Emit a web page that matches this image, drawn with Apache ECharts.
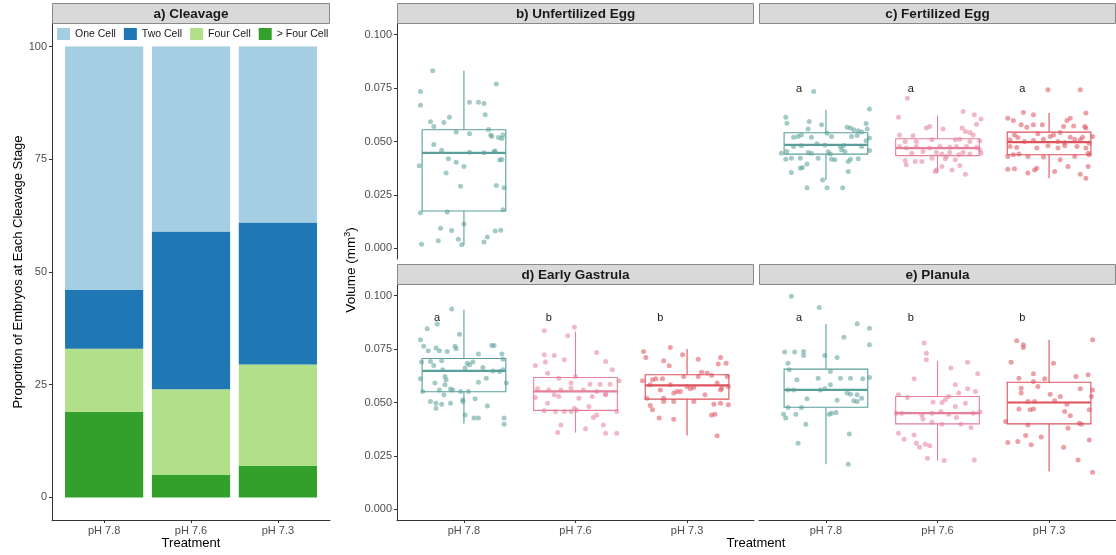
<!DOCTYPE html>
<html>
<head>
<meta charset="utf-8">
<script src="https://cdn.jsdelivr.net/npm/echarts@6/dist/echarts.min.js"></script>
<style>
  html, body { margin: 0; padding: 0; background: #fff; }
  #chart { width: 1116px; height: 555px; }
</style>
</head>
<body>
<div id="chart"></div>
<script>
// ---------- data ----------
const treatments = ['pH 7.8', 'pH 7.6', 'pH 7.3'];
const stageNames = ['One Cell', 'Two Cell', 'Four Cell', '> Four Cell'];

// Cleavage: % of embryos at each stage, per treatment
const oneCell  = [54, 41, 39];
const twoCell  = [13, 35, 31.5];
const fourCell = [14, 19, 22.5];
const moreCell = [19, 5, 7];

const proportionTicks = [0, 25, 50, 75, 100];
const volumeTicks = [0, 0.025, 0.05, 0.075, 0.1];

// Box summaries: [min, Q1, median, Q3, max] (mm^3)
const unfertBox = [[0.0016, 0.0175, 0.0447, 0.0555, 0.0831]];
const fertBox = [
  [0.0320, 0.0441, 0.0484, 0.0541, 0.0648],
  [0.0352, 0.0434, 0.0469, 0.0513, 0.0622],
  [0.0328, 0.0438, 0.0497, 0.0544, 0.0633]
];
const gastrulaBox = [
  [0.0400, 0.0550, 0.0648, 0.0706, 0.0934],
  [0.0359, 0.0463, 0.0552, 0.0617, 0.0833],
  [0.0345, 0.0516, 0.0580, 0.0630, 0.0750]
];
const planulaBox = [
  [0.0211, 0.0478, 0.0559, 0.0656, 0.0867],
  [0.0228, 0.0400, 0.0450, 0.0528, 0.0695],
  [0.0177, 0.0400, 0.0500, 0.0595, 0.0794]
];

// Significance letters
const fertLetters = ['a', 'a', 'a'];
const gastrulaLetters = ['a', 'b', 'b'];
const planulaLetters = ['a', 'b', 'b'];

// Individual volumes: [jitter, volume]
const unfert78 = [[-0.28,.0831],[-0.39,.0734],[-0.39,.067],[0.29,.0769],[0.05,.0684],[0.13,.0684],[0.18,.0678],[0.19,.0625],[-0.30,.0592],[-0.27,.057],[-0.18,.0589],[-0.13,.0614],[-0.07,.0545],[0.05,.0536],[0.22,.0556],[0.24,.0531],[0.25,.0523],[0.31,.0519],[0.34,.0514],[0.35,.053],[-0.27,.0486],[-0.20,.0459],[0.05,.045],[0.18,.0447],[0.27,.0453],[0.28,.0455],[-0.14,.0419],[-0.07,.0403],[0,.0383],[-0.40,.0386],[0.32,.0413],[0.34,.0416],[-0.16,.0352],[-0.03,.0291],[0.29,.0294],[0.36,.0284],[-0.39,.0167],[-0.15,.017],[0.35,.018],[0,.0114],[-0.21,.0094],[-0.11,.0083],[0.28,.0081],[0.33,.0084],[-0.23,.0036],[-0.05,.0042],[0.21,.0053],[0.18,.003],[-0.38,.0019],[-0.02,.0017]];

const fert78 = [[-0.11,.0734],[0.39,.0652],[-0.36,.0614],[-0.15,.0594],[0.36,.0584],[-0.04,.0578],[-0.35,.0586],[-0.16,.0558],[0.19,.0567],[0.22,.0563],[0.25,.0555],[0.29,.055],[0.32,.0544],[0.37,.0558],[0.01,.0539],[-0.22,.0531],[-0.29,.052],[-0.25,.0523],[-0.13,.052],[0.23,.0523],[0.28,.0528],[0.39,.0516],[0.05,.0523],[-0.29,.0477],[-0.22,.048],[-0.08,.0489],[-0.01,.0484],[0.13,.0477],[0.16,.0481],[0.32,.0477],[0.36,.0503],[-0.40,.0445],[-0.35,.0453],[-0.16,.0448],[-0.13,.0445],[0.02,.0452],[0.04,.0442],[0.14,.0461],[0.17,.0453],[0.39,.0458],[-0.36,.0417],[-0.31,.0422],[-0.23,.0422],[-0.07,.0422],[0.05,.0417],[0.08,.0414],[0.22,.0417],[0.29,.0419],[-0.17,.0395],[-0.23,.0375],[-0.21,.0378],[0.20,.0406],[0.20,.0359],[-0.31,.0355],[-0.03,.032],[-0.17,.0284],[0.01,.0284],[0.15,.0284]];
const fert76 = [[-0.27,.0703],[-0.35,.0614],[0.23,.0641],[0.33,.0625],[0.39,.0605],[0.35,.0581],[-0.10,.0563],[-0.07,.057],[0.05,.0558],[0.22,.0563],[0.25,.0547],[0.29,.0542],[-0.34,.0531],[-0.22,.0527],[0.32,.0531],[-0.29,.05],[-0.19,.05],[-0.05,.0508],[0.16,.0508],[0.20,.0511],[0.29,.05],[0.38,.0503],[-0.34,.0477],[-0.28,.0469],[-0.19,.0477],[-0.07,.0469],[0.02,.0477],[0.11,.0473],[0.17,.0477],[0.26,.0477],[0.35,.0473],[0.38,.0461],[0.39,.0445],[0.29,.0442],[-0.23,.0445],[-0.13,.0453],[-0.01,.0448],[0.04,.0442],[0.11,.0448],[0.19,.0438],[0.23,.0448],[-0.29,.0411],[-0.20,.0406],[-0.14,.0406],[-0.05,.0422],[0.07,.0419],[0.08,.043],[0.16,.0414],[-0.28,.0391],[0.20,.0388],[0.04,.0383],[-0.01,.0367],[-0.02,.0359],[0.13,.0367],[0.25,.0347]];
const fert73 = [[-0.01,.0742],[0.28,.0742],[-0.23,.0636],[0.33,.0633],[-0.37,.0609],[-0.32,.0598],[-0.14,.0625],[0.19,.0609],[-0.25,.0578],[-0.20,.0567],[-0.14,.0578],[-0.06,.0578],[0.13,.057],[0.16,.0598],[0.22,.0573],[0.32,.057],[0.33,.0563],[-0.31,.0531],[-0.28,.0519],[-0.10,.0536],[0.01,.0523],[0.04,.0531],[0.10,.0542],[0.19,.052],[0.30,.052],[0.39,.0523],[-0.35,.0508],[-0.22,.05],[-0.14,.0505],[-0.05,.0511],[0.08,.05],[0.14,.0495],[0.23,.0511],[0.28,.0508],[0.36,.0492],[-0.35,.0477],[-0.29,.0472],[-0.11,.0469],[-0.01,.048],[0.08,.0469],[0.14,.048],[0.25,.0477],[0.33,.0469],[-0.37,.043],[-0.32,.0438],[-0.27,.0442],[-0.19,.043],[-0.05,.0427],[0.10,.0414],[0.23,.043],[0.35,.0445],[0.36,.0438],[-0.37,.037],[-0.31,.0372],[-0.19,.0352],[-0.13,.0367],[-0.11,.0375],[0.05,.0359],[0.17,.0383],[0.28,.0347],[0.33,.0328],[0.35,.0383]];

const gastrula78 = [[-0.11,.0938],[-0.24,.0867],[-0.33,.0845],[-0.39,.0794],[-0.04,.082],[-0.36,.0763],[-0.32,.0742],[-0.25,.0755],[-0.22,.0742],[-0.15,.0739],[-0.08,.0763],[-0.07,.0752],[0.25,.0767],[0.27,.0767],[0.13,.0727],[0.34,.0727],[-0.38,.0689],[-0.30,.0692],[-0.20,.0695],[0.03,.0684],[0.05,.0677],[0.08,.0689],[0.35,.0703],[-0.27,.0673],[-0.19,.0653],[0.01,.0661],[0.17,.0664],[0.26,.0648],[0.32,.0645],[0.35,.0653],[-0.39,.0611],[-0.17,.0622],[-0.16,.0606],[0.20,.0614],[0.38,.0591],[-0.26,.0591],[-0.17,.0583],[0.13,.0595],[-0.37,.0552],[-0.22,.0559],[-0.12,.0563],[-0.10,.0559],[-0.03,.0552],[0.04,.0552],[-0.18,.0536],[-0.30,.0505],[-0.25,.0497],[-0.20,.0492],[-0.12,.0497],[-0.01,.0505],[-0.01,.0513],[0.10,.0517],[-0.25,.0473],[0.21,.0484],[0.01,.0442],[0.09,.0427],[0.13,.0427],[0.36,.0427],[0.36,.0398]];
const gastrula76 = [[-0.28,.0836],[-0.01,.0852],[-0.07,.0813],[0.19,.0734],[-0.28,.0723],[-0.19,.072],[-0.10,.07],[-0.36,.0673],[-0.27,.0689],[0.27,.0692],[0.33,.0653],[-0.25,.0637],[-0.15,.0614],[0,.0622],[0.39,.0602],[-0.04,.0591],[0.13,.0586],[0.22,.0586],[0.31,.0586],[-0.34,.0564],[-0.24,.0559],[-0.13,.0559],[-0.04,.0567],[0.07,.0559],[0.19,.0552],[0.27,.0539],[-0.36,.0523],[-0.19,.0536],[-0.15,.0528],[0.03,.052],[0.15,.0528],[0.27,.0536],[-0.25,.0497],[-0.01,.0473],[0.01,.0464],[-0.04,.0458],[-0.28,.0461],[-0.18,.0458],[-0.10,.0458],[0.12,.0481],[0.16,.043],[0.19,.0442],[0.37,.0458],[-0.13,.0395],[0.09,.0377],[0.25,.0395],[-0.16,.0359],[0.27,.0356],[0.37,.0356]];
const gastrula73 = [[-0.15,.0758],[-0.39,.0739],[-0.37,.0711],[-0.04,.0723],[-0.21,.0695],[-0.16,.0672],[0.10,.0703],[0.30,.0711],[0.35,.0684],[0.28,.068],[0.13,.0642],[0.18,.0638],[0.22,.0627],[0.10,.0622],[0.36,.0622],[0.27,.0591],[-0.40,.0602],[-0.31,.0606],[-0.28,.0611],[-0.22,.0611],[-0.03,.0622],[-0.33,.0583],[-0.24,.0559],[-0.15,.0583],[0.03,.0564],[0.06,.057],[0,.0575],[0.31,.0567],[0.37,.0575],[-0.12,.0544],[-0.09,.0552],[-0.06,.0552],[0.16,.0536],[0.30,.0559],[-0.36,.052],[-0.21,.052],[-0.12,.0505],[0.30,.0497],[0.24,.0492],[0.37,.0489],[0.06,.0505],[-0.33,.0486],[-0.31,.0466],[-0.21,.0505],[-0.25,.0427],[-0.12,.0422],[0.22,.0442],[0.25,.0445],[0.27,.0344]];

const planula78 = [[-0.31,.0997],[-0.06,.0945],[0.28,.0869],[0.39,.0848],[0.16,.0806],[0.39,.077],[-0.37,.0736],[-0.28,.0736],[-0.20,.0739],[-0.20,.072],[-0.01,.072],[0.10,.0711],[-0.34,.0684],[-0.33,.0653],[0.04,.0645],[-0.26,.0606],[-0.07,.0614],[0.13,.0614],[0.22,.0614],[0.33,.0611],[0.39,.0617],[0.04,.0583],[-0.34,.0559],[-0.29,.0559],[-0.05,.0559],[-0.01,.0564],[0.19,.0544],[0.22,.0539],[0.28,.0536],[0.32,.052],[0.25,.0508],[0.28,.0505],[-0.17,.0517],[0.10,.0511],[-0.34,.0477],[-0.22,.0477],[0.03,.0445],[0.05,.045],[0.09,.0453],[-0.38,.0445],[-0.36,.0427],[-0.27,.0445],[-0.18,.0398],[0.21,.0352],[-0.25,.0309],[0.20,.0211]];
const planula76 = [[-0.12,.0778],[-0.10,.0731],[-0.10,.07],[0.27,.0688],[0.12,.0661],[0.36,.0634],[-0.21,.0611],[0.16,.0583],[0.27,.0564],[0.34,.0552],[0.19,.0544],[-0.35,.0536],[-0.27,.0523],[0.10,.0528],[0.07,.0513],[-0.04,.0502],[0.04,.05],[0.16,.0481],[0.25,.0497],[-0.37,.045],[-0.32,.045],[-0.14,.0442],[-0.05,.045],[0.03,.0458],[0.10,.0445],[0.17,.043],[0.32,.045],[0.38,.0455],[-0.13,.0423],[-0.05,.0408],[0.04,.0398],[0.21,.0398],[0.30,.0383],[-0.35,.0356],[-0.21,.0348],[-0.30,.0328],[-0.19,.0309],[-0.11,.0305],[-0.16,.0291],[-0.07,.0298],[-0.09,.0239],[0.06,.0228],[0.33,.0231]];
const planula73 = [[-0.29,.0789],[-0.23,.077],[-0.23,.0758],[0.39,.0794],[-0.34,.0688],[0.04,.0684],[-0.14,.0634],[-0.27,.0614],[-0.14,.0598],[-0.04,.0611],[0.24,.0622],[0.35,.063],[-0.25,.0567],[-0.10,.0575],[0.28,.0564],[0.39,.0559],[-0.25,.0544],[0.01,.0539],[0.10,.0528],[0.38,.0528],[-0.19,.0505],[-0.13,.0505],[0.05,.0508],[0.16,.0492],[-0.27,.047],[-0.17,.0466],[-0.14,.047],[0.14,.0458],[0.19,.0438],[0.36,.0466],[-0.39,.0411],[-0.19,.0395],[0.27,.0403],[0.29,.0398],[0.17,.038],[-0.37,.0313],[-0.28,.0317],[-0.21,.0345],[-0.16,.0302],[-0.07,.0338],[0.36,.0325],[0.13,.0291],[0.26,.0231],[0.39,.0173]];

// ---------- styling ----------
const FONT = '"Liberation Sans", Arial, Helvetica, sans-serif';
const stageColors = ['#A6CEE3', '#1F78B4', '#B2DF8A', '#33A02C'];
const groupColors = ['#5A9F9A', '#E5809B', '#DD525C'];
const TICK_COLOR = '#4D4D4D';
const AXIS_COLOR = '#333333';
const BOX_HALF = 0.375;
const BAR_HALF = 0.45;

// plotting regions: a) cleavage, b) unfertilized, c) fertilized, d) gastrula, e) planula
const grids = [
  { left: 52,  top: 24,  width: 278, height: 496 },
  { left: 397, top: 24,  width: 357, height: 235 },
  { left: 759, top: 24,  width: 357, height: 235 },
  { left: 397, top: 285, width: 357, height: 235 },
  { left: 759, top: 285, width: 357, height: 235 }
];

const lineStyle = { color: AXIS_COLOR, width: 1 };
const labelStyle = { color: TICK_COLOR, fontSize: 11, fontFamily: FONT };

function makeX(gridIndex, show) {
  return {
    type: 'value', gridIndex, min: 0.4, max: 3.6,
    axisLine: { show, onZero: false, lineStyle },
    axisTick: { show, customValues: [1, 2, 3], length: 3, lineStyle },
    axisLabel: {
      show, customValues: [1, 2, 3], margin: 5, ...labelStyle,
      formatter: v => treatments[Math.round(v) - 1]
    },
    splitLine: { show: false }
  };
}
function makeVolumeY(gridIndex, show) {
  return {
    type: 'value', gridIndex, min: -0.005, max: 0.105,
    axisLine: { show, onZero: false, lineStyle },
    axisTick: { show, customValues: volumeTicks, length: 3, lineStyle },
    axisLabel: { show, customValues: volumeTicks, margin: 5, ...labelStyle, formatter: v => v.toFixed(3) },
    splitLine: { show: false }
  };
}

const xAxis = [
  makeX(0, true), makeX(1, false), makeX(2, false), makeX(3, true), makeX(4, true)
];
const yAxis = [
  {
    type: 'value', gridIndex: 0, min: -5, max: 105,
    axisLine: { show: true, onZero: false, lineStyle },
    axisTick: { show: true, customValues: proportionTicks, length: 3, lineStyle },
    axisLabel: { customValues: proportionTicks, margin: 5, ...labelStyle },
    splitLine: { show: false }
  },
  makeVolumeY(1, true), makeVolumeY(2, false), makeVolumeY(3, true), makeVolumeY(4, false)
];

const series = [];

// stacked cleavage bars: '> Four Cell' at the bottom, 'One Cell' on top
const stageValues = [oneCell, twoCell, fourCell, moreCell];
const runningTotal = [0, 0, 0];
function renderSegment(params, api) {
  const x = api.value(0);
  const tl = api.coord([x - BAR_HALF, api.value(2)]);
  const br = api.coord([x + BAR_HALF, api.value(1)]);
  return {
    type: 'rect',
    shape: { x: tl[0], y: tl[1], width: br[0] - tl[0], height: br[1] - tl[1] },
    style: { fill: api.visual('color') }
  };
}
[3, 2, 1, 0].forEach(s => {
  const data = stageValues[s].map((v, i) => {
    const lo = runningTotal[i];
    runningTotal[i] += v;
    return [i + 1, lo, runningTotal[i]];
  });
  series.push({
    type: 'custom', name: stageNames[s], xAxisIndex: 0, yAxisIndex: 0,
    itemStyle: { color: stageColors[s] }, silent: true,
    renderItem: renderSegment, data
  });
});

function renderBox(params, api) {
  const x = api.value(0);
  const mn = api.value(1), q1 = api.value(2), md = api.value(3), q3 = api.value(4), mx = api.value(5);
  const color = groupColors[api.value(6)];
  const tl = api.coord([x - BOX_HALF, q3]);
  const br = api.coord([x + BOX_HALF, q1]);
  const mL = api.coord([x - BOX_HALF, md]);
  const mR = api.coord([x + BOX_HALF, md]);
  const top = api.coord([x, q3]), topEnd = api.coord([x, mx]);
  const bot = api.coord([x, q1]), botEnd = api.coord([x, mn]);
  const st = { stroke: color, fill: null, lineWidth: 1.1 };
  return {
    type: 'group',
    children: [
      { type: 'line', shape: { x1: top[0], y1: top[1], x2: topEnd[0], y2: topEnd[1] }, style: st },
      { type: 'line', shape: { x1: bot[0], y1: bot[1], x2: botEnd[0], y2: botEnd[1] }, style: st },
      { type: 'rect', shape: { x: tl[0], y: tl[1], width: br[0] - tl[0], height: br[1] - tl[1] }, style: st },
      { type: 'line', shape: { x1: mL[0], y1: mL[1], x2: mR[0], y2: mR[1] }, style: { stroke: color, lineWidth: 2.2 } }
    ]
  };
}

function makeLetterRenderer(letters) {
  return function (params, api) {
    const p = api.coord([api.value(0), api.value(1)]);
    return {
      type: 'text', x: p[0], y: p[1],
      style: {
        text: letters[params.dataIndex], fill: '#1A1A1A',
        fontSize: 11, fontFamily: FONT, align: 'center', verticalAlign: 'middle'
      }
    };
  };
}

const panels = [
  { axis: 1, boxes: unfertBox, points: [unfert78], letters: null, letterY: 0 },
  { axis: 2, boxes: fertBox, points: [fert78, fert76, fert73], letters: fertLetters, letterY: 0.0745 },
  { axis: 3, boxes: gastrulaBox, points: [gastrula78, gastrula76, gastrula73], letters: gastrulaLetters, letterY: 0.0898 },
  { axis: 4, boxes: planulaBox, points: [planula78, planula76, planula73], letters: planulaLetters, letterY: 0.0898 }
];

panels.forEach(pn => {
  series.push({
    type: 'custom', xAxisIndex: pn.axis, yAxisIndex: pn.axis, z: 2,
    renderItem: renderBox, silent: true,
    data: pn.boxes.map((b, i) => [i + 1, ...b, i])
  });
  pn.points.forEach((pts, g) => {
    series.push({
      type: 'scatter', xAxisIndex: pn.axis, yAxisIndex: pn.axis, z: 3,
      symbolSize: 5, silent: true,
      itemStyle: { color: groupColors[g], opacity: 0.55 },
      data: pts.map(p => [g + 1 + p[0], p[1]])
    });
  });
  if (pn.letters) {
    series.push({
      type: 'custom', xAxisIndex: pn.axis, yAxisIndex: pn.axis, z: 4, silent: true,
      renderItem: makeLetterRenderer(pn.letters),
      data: pn.letters.map((l, i) => [i + 1 - 0.24, pn.letterY])
    });
  }
});

// facet strips
const stripTitles = ['a) Cleavage', 'b) Unfertilized Egg', 'c) Fertilized Egg', 'd) Early Gastrula', 'e) Planula'];
const graphic = [];
grids.forEach((g, i) => {
  const h = 21, y = g.top - h;
  graphic.push({
    type: 'rect', silent: true,
    shape: { x: g.left + 0.5, y: y + 0.5, width: g.width - 1, height: h - 1 },
    style: { fill: '#D9D9D9', stroke: '#8A8A8A', lineWidth: 1 }
  });
  graphic.push({
    type: 'text', silent: true, x: g.left + g.width / 2, y: y + h / 2 + 0.5,
    style: { text: stripTitles[i], fill: '#1A1A1A', fontSize: 13.5, fontWeight: 'bold',
             fontFamily: FONT, align: 'center', verticalAlign: 'middle' }
  });
});

// axis titles
graphic.push({
  type: 'text', silent: true, x: 18, y: 272, rotation: Math.PI / 2,
  style: { text: 'Proportion of Embryos at Each Cleavage Stage', fill: '#000', fontSize: 13,
           fontFamily: FONT, align: 'center', verticalAlign: 'middle' }
});
graphic.push({
  type: 'text', silent: true, x: 191, y: 543,
  style: { text: 'Treatment', fill: '#000', fontSize: 13, fontFamily: FONT, align: 'center', verticalAlign: 'middle' }
});
graphic.push({
  type: 'text', silent: true, x: 756, y: 543,
  style: { text: 'Treatment', fill: '#000', fontSize: 13, fontFamily: FONT, align: 'center', verticalAlign: 'middle' }
});
graphic.push({
  type: 'text', silent: true, x: 351, y: 270, rotation: Math.PI / 2,
  style: {
    text: 'Volume (mm{sup|3})', fill: '#000', fontSize: 13.5, fontFamily: FONT,
    align: 'center', verticalAlign: 'middle',
    rich: { sup: { fontSize: 9, fontFamily: FONT, fill: '#000', padding: [0, 0, 7, 0] } }
  }
});

const chart = echarts.init(document.getElementById('chart'), null, { renderer: 'canvas' });
chart.setOption({
  animation: false,
  backgroundColor: '#ffffff',
  textStyle: { fontFamily: FONT },
  grid: grids.map(g => ({ ...g, containLabel: false })),
  legend: {
    data: stageNames, left: 57, top: 28, padding: 0, itemWidth: 13, itemHeight: 12, itemGap: 8,
    icon: 'rect', selectedMode: false,
    textStyle: { fontSize: 10.5, color: '#1A1A1A', fontFamily: FONT }
  },
  xAxis, yAxis, series, graphic
});
</script>
</body>
</html>
